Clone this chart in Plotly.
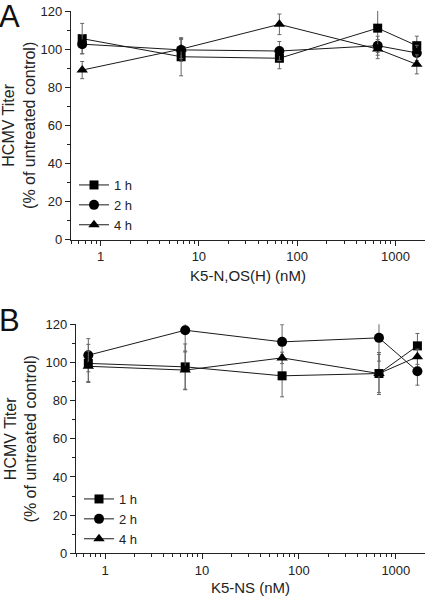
import plotly.graph_objects as go
import math

# ---------------- data ----------------
conc_a = [0.65, 6.6, 66, 660, 1650]
conc_b = [0.67, 6.7, 67, 670, 1670]
series_names = ["1 h", "2 h", "4 h"]

# Panel A: K5-N,OS(H)
a_1h = [105.5, 96.0, 95.2, 111.0, 101.8]
a_1h_err = [8.0, 10.0, 5.5, 12.7, 5.0]
a_2h = [102.6, 99.6, 99.0, 101.8, 98.0]
a_2h_err = [5.0, 6.0, 5.0, 5.0, 4.0]
a_4h = [89.0, 100.0, 113.0, 100.0, 92.0]
a_4h_err = [4.5, 5.0, 5.4, 5.0, 5.0]

# Panel B: K5-NS
b_1h = [99.5, 97.7, 93.0, 94.2, 108.7]
b_1h_err = [10.0, 12.0, 11.0, 11.0, 6.5]
b_2h = [103.8, 116.9, 110.8, 112.9, 95.4]
b_2h_err = [8.7, 11.4, 9.0, 12.2, 7.3]
b_4h = [98.0, 96.0, 102.4, 94.2, 103.0]
b_4h_err = [8.0, 10.0, 3.0, 10.0, 4.0]

x_titles = ["K5-N,OS(H) (nM)", "K5-NS (nM)"]
y_title = "HCMV Titer<br>(% of untreated control)"
panel_labels = ["A", "B"]

symbols = ["square", "circle", "triangle-up"]
sizes = [9, 10, 10]

W, H = 425, 596
FONT = "Liberation Sans, Arial, sans-serif"

fig = go.Figure()

panels = [
    (conc_a, [(a_1h, a_1h_err), (a_2h, a_2h_err), (a_4h, a_4h_err)], "x", "y", "legend"),
    (conc_b, [(b_1h, b_1h_err), (b_2h, b_2h_err), (b_4h, b_4h_err)], "x2", "y2", "legend2"),
]

for conc, sers, xa, ya, lg in panels:
    for i, (vals, errs) in enumerate(sers):
        fig.add_trace(go.Scatter(
            x=conc, y=vals, name=series_names[i], xaxis=xa, yaxis=ya, legend=lg,
            mode="lines+markers",
            line=dict(color="#1a1a1a", width=1),
            marker=dict(symbol=symbols[i], size=sizes[i], color="black"),
            error_y=dict(type="data", array=errs, color="#666666", thickness=1, width=2),
            cliponaxis=False,
        ))

# domains (pixel-derived)
xa_dom = [71 / W, 1.0]
ya_dom = [1 - 239.7 / H, 1 - 11 / H]
xb_dom = [76 / W, 1.0]
yb_dom = [1 - 553.3 / H, 1 - 324.3 / H]

xrange_log = [math.log10(0.5), math.log10(2000)]

def xaxis_cfg(dom, title, anchor):
    return dict(
        domain=dom, type="log", range=xrange_log, anchor=anchor, automargin=False,
        showgrid=False, zeroline=False, showline=True, linecolor="#222", linewidth=1.3,
        ticks="outside", ticklen=5, tickwidth=1, tickcolor="#222",
        dtick=1, exponentformat="none",
        minor=dict(ticks="outside", ticklen=3, tickwidth=1, tickcolor="#222", dtick="D1", showgrid=False),
        tickfont=dict(family=FONT, size=13, color="#222"),
        title=dict(text=title, font=dict(family=FONT, size=15, color="#222"), standoff=7),
    )

def yaxis_cfg(dom, anchor):
    return dict(
        domain=dom, range=[0, 120], anchor=anchor, automargin=False,
        showgrid=False, zeroline=False, showline=True, linecolor="#222", linewidth=1.3,
        ticks="outside", ticklen=5, tickwidth=1, tickcolor="#222", dtick=20,
        minor=dict(ticks="outside", ticklen=3, tickwidth=1, tickcolor="#222", dtick=10, showgrid=False),
        tickfont=dict(family=FONT, size=13, color="#222"),
        title=dict(text=y_title, font=dict(family=FONT, size=16, color="#222"), standoff=4),
    )

legend_common = dict(
    bgcolor="rgba(0,0,0,0)", borderwidth=0, tracegroupgap=0,
    font=dict(family=FONT, size=13, color="#222"),
    xanchor="left", yanchor="bottom", itemclick=False, itemdoubleclick=False,
    xref="paper", yref="paper",
)

fig.update_layout(
    width=W, height=H,
    margin=dict(l=0, r=0, t=0, b=0, autoexpand=False),
    paper_bgcolor="white", plot_bgcolor="white",
    showlegend=True,
    xaxis=xaxis_cfg(xa_dom, x_titles[0], "y"),
    yaxis=yaxis_cfg(ya_dom, "x"),
    xaxis2=xaxis_cfg(xb_dom, x_titles[1], "y2"),
    yaxis2=yaxis_cfg(yb_dom, "x2"),
    legend=dict(x=74 / W, y=1 - 240 / H, **legend_common),
    legend2=dict(x=79 / W, y=1 - 554 / H, **legend_common),
)

fig.add_annotation(text=panel_labels[0], xref="paper", yref="paper", x=0, y=1,
                   xanchor="left", yanchor="top", showarrow=False,
                   font=dict(family=FONT, size=31, color="#111"), xshift=-3, yshift=3)
fig.add_annotation(text=panel_labels[1], xref="paper", yref="paper", x=0, y=1 - 304 / H,
                   xanchor="left", yanchor="top", showarrow=False,
                   font=dict(family=FONT, size=31, color="#111"), xshift=-3, yshift=3)

fig.write_html("out.html",
               config={"displayModeBar": False},
               post_script="document.body.style.margin='0';document.body.style.overflow='hidden';")
